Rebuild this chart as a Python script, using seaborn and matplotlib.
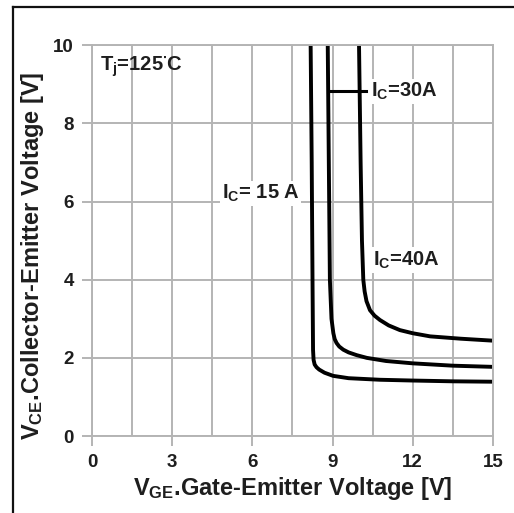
import matplotlib
matplotlib.use("Agg")
import matplotlib.pyplot as plt
from matplotlib.lines import Line2D
import numpy as np
import pandas as pd
import seaborn as sns

# V_CE vs V_GE at Tj = 125 C, one curve per collector current
vge_15a = [8.18, 8.22, 8.25, 8.27, 8.29, 8.33, 8.40, 8.50, 8.70, 9.02, 9.60, 10.77, 12.0, 13.5, 15.0]
vce_15a = [10.0, 7.0, 4.0, 2.20, 1.95, 1.83, 1.76, 1.70, 1.62, 1.54, 1.48, 1.44, 1.42, 1.40, 1.39]

vge_30a = [8.82, 8.86, 8.90, 8.96, 9.03, 9.08, 9.15, 9.25, 9.40, 9.60, 9.90, 10.28, 11.0, 12.0, 13.5, 15.0]
vce_30a = [10.0, 7.0, 4.0, 3.0, 2.63, 2.48, 2.38, 2.29, 2.21, 2.14, 2.07, 2.00, 1.92, 1.86, 1.80, 1.77]

vge_40a = [9.99, 10.05, 10.10, 10.15, 10.20, 10.27, 10.40, 10.57, 10.77, 11.10, 11.52, 12.0, 12.65, 13.8, 15.0]
vce_40a = [10.0, 7.0, 5.0, 4.0, 3.70, 3.45, 3.22, 3.08, 2.97, 2.83, 2.71, 2.63, 2.55, 2.49, 2.44]

currents = ["15A", "30A", "40A"]

frames = []
for name, xs, ys in zip(currents, [vge_15a, vge_30a, vge_40a], [vce_15a, vce_30a, vce_40a]):
    frames.append(pd.DataFrame({"vge": xs, "vce": ys, "ic": name}))
df = pd.concat(frames, ignore_index=True)

plt.rcParams["font.family"] = ["Liberation Sans", "DejaVu Sans"]
plt.rcParams["font.weight"] = "bold"
plt.rcParams["mathtext.fontset"] = "custom"
plt.rcParams["mathtext.rm"] = "Liberation Sans:bold"
plt.rcParams["mathtext.it"] = "Liberation Sans:bold"
plt.rcParams["mathtext.bf"] = "Liberation Sans:bold"
plt.rcParams["mathtext.default"] = "regular"

grid_col = "#b4b4b4"
text_col = "#1e1e1e"

fig = plt.figure(figsize=(5.14, 5.13), dpi=100)
ax = fig.add_axes([0.179, 0.150, 0.780, 0.762])

sns.lineplot(data=df, x="vge", y="vce", hue="ic", units="ic", estimator=None,
             sort=False, palette=["black"] * 3, linewidth=2.8, legend=False, ax=ax)

ax.set_xlim(0, 15)
ax.set_ylim(0, 10)
ax.set_xticks(np.arange(0, 15.1, 3))
ax.set_xticks(np.arange(1.5, 15, 3), minor=True)
ax.set_yticks(np.arange(0, 10.1, 2))
ax.grid(True, which="both", axis="x", color=grid_col, linewidth=1.4)
ax.grid(True, which="major", axis="y", color=grid_col, linewidth=1.4)
ax.set_axisbelow(True)
for s in ax.spines.values():
    s.set_color(grid_col)
    s.set_linewidth(1.4)
ax.tick_params(axis="both", which="major", length=7, width=1.4, color=grid_col,
               labelsize=13.5, labelcolor=text_col, pad=6)
ax.tick_params(axis="x", which="minor", length=0)
for lab in ax.get_xticklabels() + ax.get_yticklabels():
    lab.set_fontweight("bold")

ax.set_xlabel(r"V$_{GE}$.Gate-Emitter Voltage [V]", fontsize=17, fontweight="bold",
              color=text_col, labelpad=3)
ax.set_ylabel(r"V$_{CE}$.Collector-Emitter Voltage [V]", fontsize=17, fontweight="bold",
              color=text_col)
ax.yaxis.set_label_coords(-0.115, 0.462)

box = dict(facecolor="white", edgecolor="none", pad=1.5)
ax.text(0.3, 9.45, r"T$_j$=125$^{\bullet}$C", fontsize=14.5, fontweight="bold",
        color=text_col, va="center", ha="left")
ax.text(4.85, 6.2, r"I$_C$= 15 A", fontsize=14.5, fontweight="bold", color=text_col,
        va="center", ha="left", bbox=box)
ax.plot([8.9, 10.25], [8.82, 8.82], color="black", linewidth=2.2)
ax.text(10.45, 8.82, r"I$_C$=30A", fontsize=14.5, fontweight="bold", color=text_col,
        va="center", ha="left", bbox=box)
ax.text(10.5, 4.5, r"I$_C$=40A", fontsize=14.5, fontweight="bold", color=text_col,
        va="center", ha="left", bbox=box)

# outer frame (top and left edges)
fig.add_artist(Line2D([13 / 514, 1.0], [1 - 7 / 513, 1 - 7 / 513],
                      transform=fig.transFigure, color="#111111", linewidth=1.6))
fig.add_artist(Line2D([13 / 514, 13 / 514], [0.0, 1 - 7 / 513],
                      transform=fig.transFigure, color="#111111", linewidth=1.6))

fig.savefig("out.png", dpi=100, facecolor="white")
